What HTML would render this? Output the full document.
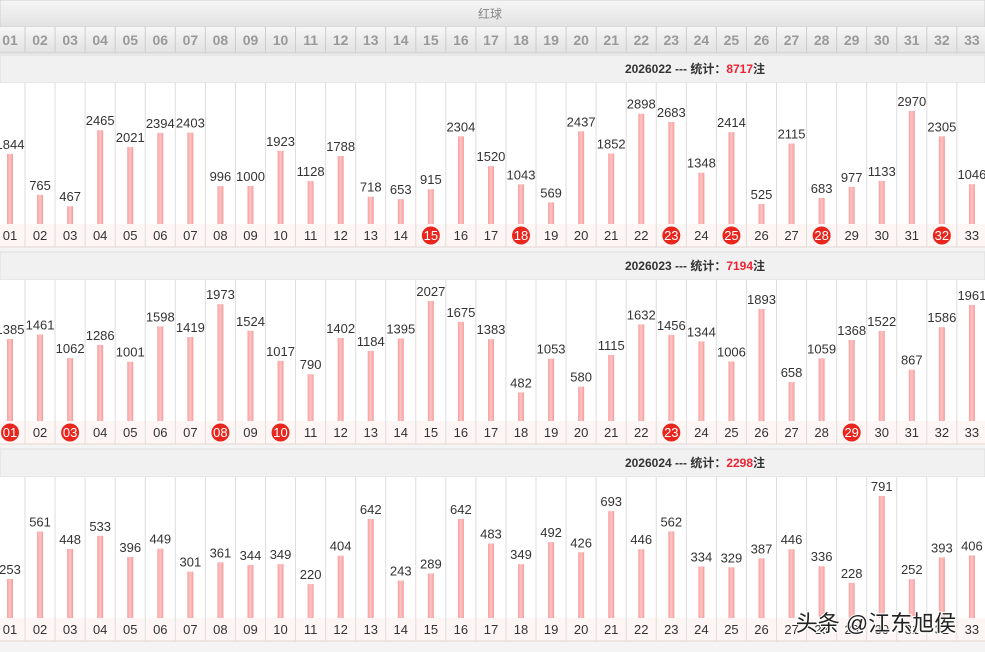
<!DOCTYPE html>
<html><head><meta charset="utf-8">
<style>
body{margin:0;width:985px;height:652px;overflow:hidden;background:#f4f4f4;font-family:"Liberation Sans","Noto Sans CJK SC",sans-serif;}
svg{display:block}
</style></head>
<body>
<svg id="c" width="985" height="652" xmlns="http://www.w3.org/2000/svg">
<defs>
<linearGradient id="bg" x1="0" x2="1"><stop offset="0" stop-color="#f7a0a0"/><stop offset="0.5" stop-color="#ffc4c4"/><stop offset="1" stop-color="#f59a9a"/></linearGradient>
<linearGradient id="hg" x1="0" y1="0" x2="0" y2="1"><stop offset="0" stop-color="#f6f6f6"/><stop offset="1" stop-color="#e2e2e2"/></linearGradient>
</defs>
</svg>
<script>
const numbers=["01","02","03","04","05","06","07","08","09","10","11","12","13","14","15","16","17","18","19","20","21","22","23","24","25","26","27","28","29","30","31","32","33"];
const issues=["2026022","2026023","2026024"];
const totals=["8717","7194","2298"];
const s1=[1844,765,467,2465,2021,2394,2403,996,1000,1923,1128,1788,718,653,915,2304,1520,1043,569,2437,1852,2898,2683,1348,2414,525,2115,683,977,1133,2970,2305,1046];
const s2=[1385,1461,1062,1286,1001,1598,1419,1973,1524,1017,790,1402,1184,1395,2027,1675,1383,482,1053,580,1115,1632,1456,1344,1006,1893,658,1059,1368,1522,867,1586,1961];
const s3=[253,561,448,533,396,449,301,361,344,349,220,404,642,243,289,642,483,349,492,426,693,446,562,334,329,387,446,336,228,791,252,393,406];
const hits1=["15","18","23","25","28","32"];
const hits2=["01","03","08","10","23","29"];
const hits3=[];
const series=[s1,s2,s3];
const hits=[hits1,hits2,hits3];

const svg=document.getElementById('c');
const NS='http://www.w3.org/2000/svg';
function mk(t,a,p){const e=document.createElementNS(NS,t);for(const k in a)e.setAttribute(k,a[k]);(p||svg).appendChild(e);return e;}
const colW=30.06;
function xc(i){return 10+i*colW;}

let g=mk('g',{});


mk('rect',{x:0,y:0,width:985,height:27,fill:'url(#hg)',stroke:'#d0d0d0'},g);
let t=mk('text',{x:490,y:18,'font-size':12,fill:'#888','text-anchor':'middle'},g);t.textContent='红球';


mk('rect',{x:0,y:27,width:985,height:26,fill:'url(#hg)'},g);
numbers.forEach((n,i)=>{
  mk('line',{x1:xc(i)+15,x2:xc(i)+15,y1:27,y2:53,stroke:'#ccc'},g);
  const tx=mk('text',{x:xc(i),y:45,'font-size':14,'font-weight':'bold',fill:'#999','text-anchor':'middle'},g);
  tx.textContent=n;
  
  
});
mk('line',{x1:0,x2:985,y1:53,y2:53,stroke:'#ccc'},g);

const tops=[55,252,449];
const scales=[113/2970,120/2027,122/791];
series.forEach((vals,si)=>{
  const y0=tops[si];
  const sec=mk('g',{});
  
  
  mk('rect',{x:0,y:y0,width:985,height:28,fill:'#f1f1f1',stroke:'#ddd'},sec);
  const tt=mk('text',{x:695,y:y0+18,'font-size':12,'font-weight':'bold',fill:'#333','text-anchor':'middle'},sec);
  tt.innerHTML=issues[si]+' --- 统计：<tspan fill="#e23">'+totals[si]+'</tspan>注';
  
  
  const bTop=y0+28, base=y0+169;
  mk('rect',{x:0,y:bTop,width:985,height:141,fill:'#fff'},sec);
  mk('rect',{x:0,y:base,width:985,height:23,fill:'#fdf6f4'},sec);
  mk('line',{x1:0,x2:985,y1:base+23,y2:base+23,stroke:'#e6d6d2'},sec);
  vals.forEach((v,i)=>{
    const x=xc(i);
    mk('line',{x1:x+15,x2:x+15,y1:bTop,y2:base+23,stroke:'#ddd'},sec);
    const h=v*scales[si];
    const b=mk('rect',{x:x-3,y:base-h,width:6,height:h,fill:'url(#bg)'},sec);
    
    
    const l=mk('text',{x:x,y:base-h-5,'font-size':13,fill:'#333','text-anchor':'middle'},sec);
    l.textContent=v;
    
    
    const hit=hits[si].includes(numbers[i]);
    if(hit){
      const c=mk('circle',{cx:x,cy:base+11.5,r:9,fill:'#e8261d'},sec);
      
      
    }
    const n=mk('text',{x:x,y:base+16,'font-size':13,fill:hit?'#fff':'#333','text-anchor':'middle'},sec);
    n.textContent=numbers[i];
    
    
  });
});
const w=mk('text',{x:876,y:631,'font-size':22,fill:'#222',stroke:'#fff','stroke-width':2,'paint-order':'stroke','text-anchor':'middle'});
w.textContent='头条 @江东旭侯';


</script>
</body></html>
